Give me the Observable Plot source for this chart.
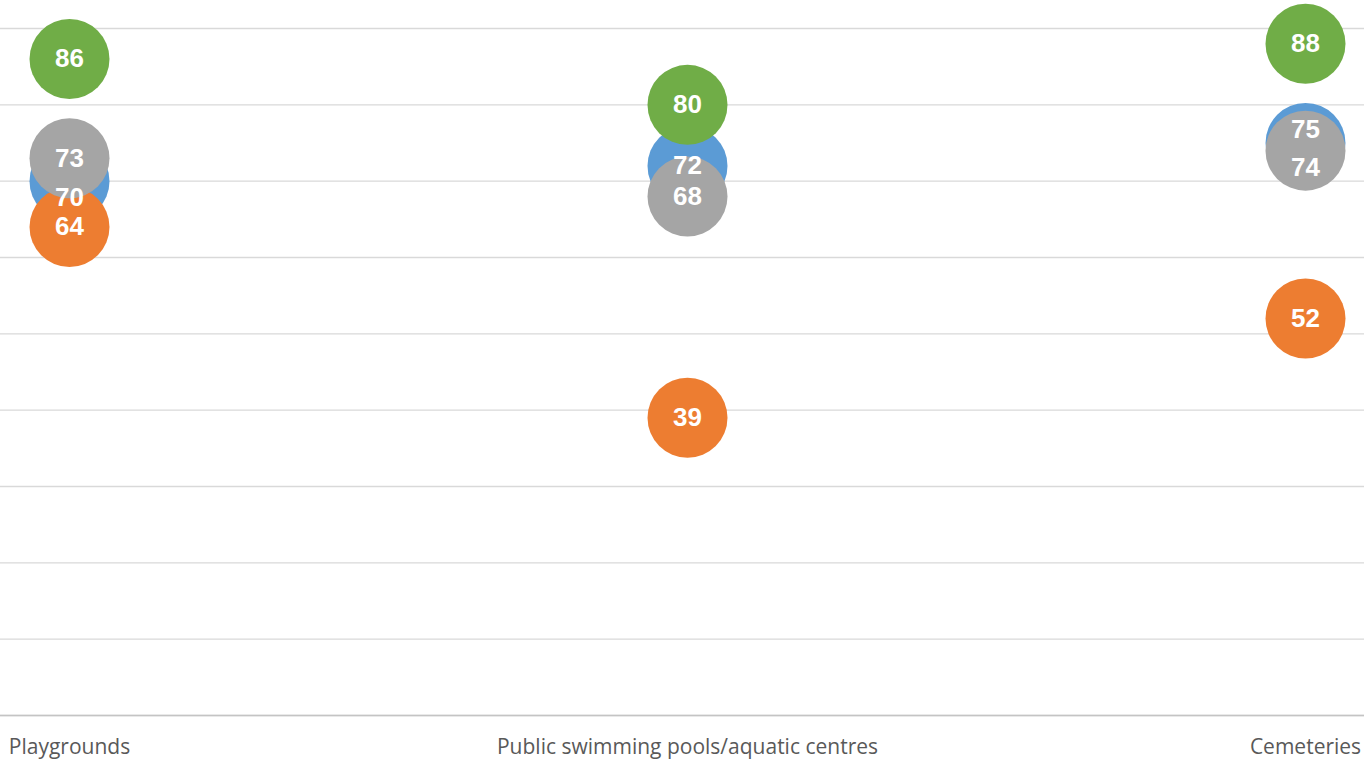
<!DOCTYPE html>
<html>
<head>
<meta charset="utf-8">
<script src="https://cdn.jsdelivr.net/npm/d3@7"></script>
<script src="https://cdn.jsdelivr.net/npm/@observablehq/plot@0.6"></script>
<style>
  html, body { margin: 0; padding: 0; background: #fff; }
  #chart svg { display: block; }
</style>
</head>
<body>
<div id="chart"></div>
<script>
const categories = ["Playgrounds", "Public swimming pools/aquatic centres", "Cemeteries"];
const seriesNames = ["Series 1", "Series 2", "Series 3", "Series 4"];
const series1 = [70, 72, 75];
const series2 = [64, 39, 52];
const series3 = [73, 68, 74];
const series4 = [86, 80, 88];
const gridTicks = [0, 10, 20, 30, 40, 50, 60, 70, 80, 90];

const palette = ["#5B9BD5", "#ED7D31", "#A5A5A5", "#70AD47"];
const allSeries = [series1, series2, series3, series4];
const data = [];
allSeries.forEach((vals, si) => {
  vals.forEach((v, ci) => data.push({series: seriesNames[si], category: categories[ci], value: v}));
});
// label nudges (pixels) to avoid overlapping labels, as in the original
const nudge = {
  "Series 1|Playgrounds": 16,
  "Series 1|Cemeteries": -13,
  "Series 3|Cemeteries": 17
};
const offOf = d => nudge[d.series + "|" + d.category] || 0;
const offsets = Array.from(new Set(data.map(offOf)));

const labelStyle = {
  fill: "white", fontSize: 26, fontWeight: "bold",
  fontFamily: "Liberation Sans, Arial, sans-serif"
};

const chart = Plot.plot({
  width: 1364,
  height: 765,
  marginTop: 0,
  marginLeft: 0,
  marginRight: 0,
  marginBottom: 50,
  x: {type: "point", domain: categories, range: [69, 1305], padding: 0, axis: null},
  y: {domain: [0, 93.67], axis: null},
  color: {domain: seriesNames, range: palette},
  marks: [
    Plot.ruleY(gridTicks, {stroke: "#d9d9d9", strokeWidth: 1.3}),
    Plot.ruleY([0], {stroke: "#c4c4c4", strokeWidth: 1.3}),
    Plot.dot(data, {x: "category", y: "value", r: 40, fill: "series", stroke: "none"}),
    ...offsets.map(o => Plot.text(data.filter(d => offOf(d) === o), {
      x: "category", y: "value", text: d => String(d.value), dy: o, ...labelStyle
    })),
    Plot.text(categories, {
      x: d => d, y: () => 0, text: d => d, dy: 32,
      fill: "#595959", fontSize: 21,
      fontFamily: "Open Sans, sans-serif"
    })
  ]
});

document.getElementById("chart").appendChild(chart);
</script>
</body>
</html>
